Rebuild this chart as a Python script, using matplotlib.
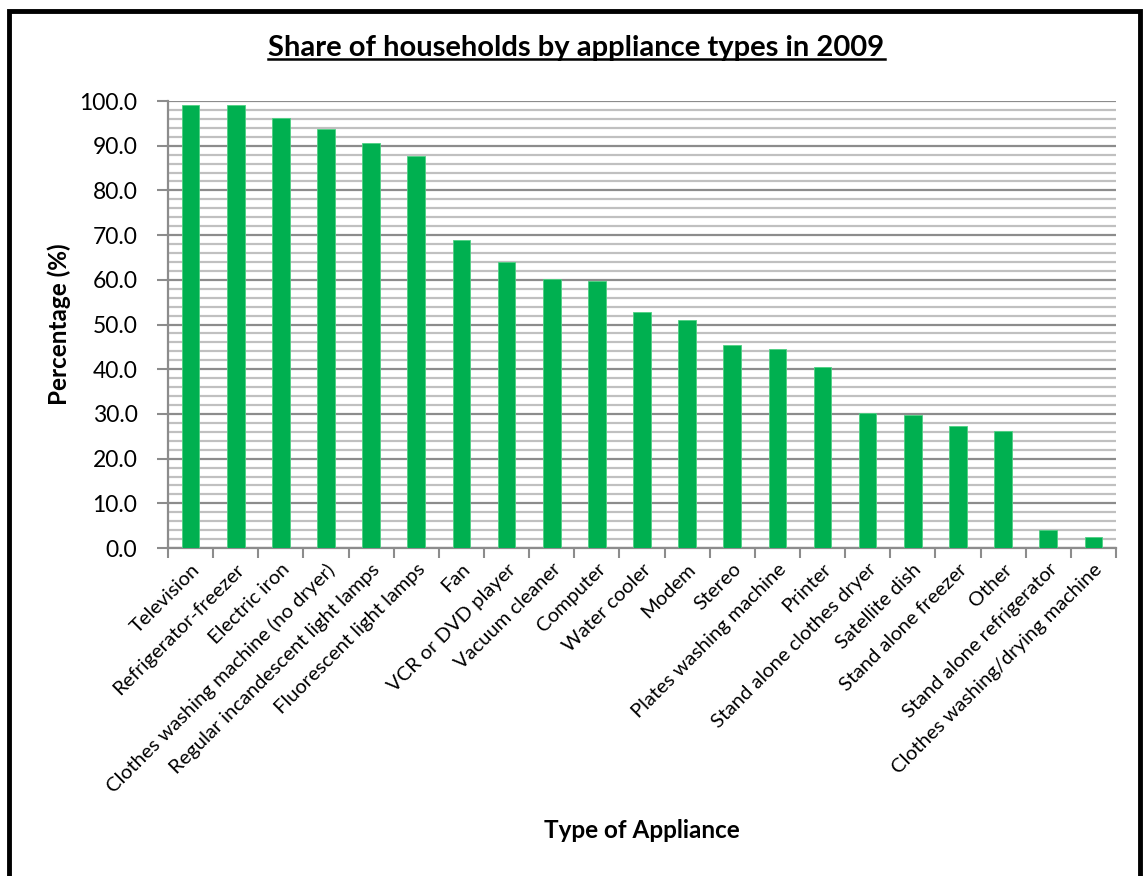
import matplotlib.pyplot as plt
from matplotlib.ticker import MultipleLocator, FormatStrFormatter
from matplotlib.patches import Rectangle
from matplotlib.lines import Line2D

plt.rcParams['font.family'] = ['Lato', 'DejaVu Sans']

appliances = ["Television", "Refrigerator-freezer", "Electric iron",
              "Clothes washing machine (no dryer)", "Regular incandescent light lamps",
              "Fluorescent light lamps", "Fan", "VCR or DVD player", "Vacuum cleaner",
              "Computer", "Water cooler", "Modem", "Stereo", "Plates washing machine",
              "Printer", "Stand alone clothes dryer", "Satellite dish",
              "Stand alone freezer", "Other", "Stand alone refrigerator",
              "Clothes washing/drying machine"]
share = [99.1, 99.0, 96.2, 93.7, 90.5, 87.8, 68.8, 64.0, 60.2, 59.8, 52.7,
         51.0, 45.5, 44.5, 40.6, 30.3, 29.8, 27.3, 26.1, 4.0, 2.4]

fig = plt.figure(figsize=(11.46, 8.76), dpi=100)
ax = fig.add_axes([0.1466, 0.3744, 0.8272, 0.5103])

x = range(len(appliances))
ax.bar(x, share, width=0.39, color='#00B050', edgecolor='#4fd083',
       linewidth=0.6, zorder=3)

ax.set_xlim(-0.5, len(appliances) - 0.5)
ax.set_ylim(0, 100)

# y axis: major every 10, minor every 2
ax.yaxis.set_major_locator(MultipleLocator(10))
ax.yaxis.set_minor_locator(MultipleLocator(2))
ax.yaxis.set_major_formatter(FormatStrFormatter('%.1f'))
ax.grid(which='major', axis='y', color='#8c8c8c', linewidth=1.6, zorder=1)
ax.grid(which='minor', axis='y', color='#c0c0c0', linewidth=1.6, zorder=1)
ax.tick_params(axis='y', which='major', length=8, width=1.5, color='#8c8c8c',
               labelsize=16.5, pad=14)
ax.tick_params(axis='y', which='minor', length=0)

# x axis: labels at bar centres, tick marks between categories
ax.set_xticks(list(x))
ax.set_xticklabels(appliances, rotation=45, ha='right', rotation_mode='anchor',
                   fontsize=14.5)
ax.set_xticks([i - 0.5 for i in range(len(appliances) + 1)], minor=True)
ax.tick_params(axis='x', which='major', length=0, pad=9)
ax.tick_params(axis='x', which='minor', length=7, width=1.5, color='#8c8c8c')

for side in ('top', 'right'):
    ax.spines[side].set_visible(False)
for side in ('left', 'bottom'):
    ax.spines[side].set_color('#8c8c8c')
    ax.spines[side].set_linewidth(1.6)

ax.set_ylabel('Percentage (%)', fontsize=17.5, fontweight='bold', labelpad=6)
fig.text(0.56, 0.052, 'Type of Appliance', ha='center', va='center',
         fontsize=17.5, fontweight='bold')

title = fig.text(0.503, 0.945, 'Share of households by appliance types in 2009',
                 ha='center', va='center', fontsize=21, fontweight='bold')

# underline the title
fig.canvas.draw()
bb = title.get_window_extent().transformed(fig.transFigure.inverted())
fig.add_artist(Line2D([bb.x0, bb.x1], [bb.y0 + 0.002, bb.y0 + 0.002],
                      transform=fig.transFigure, color='black', linewidth=1.8))

# outer frame
fig.add_artist(Rectangle((0.0075, -0.05), 0.9875, 1.038, transform=fig.transFigure,
                         fill=False, edgecolor='black', linewidth=3.5))

fig.savefig('out.png', dpi=100)
